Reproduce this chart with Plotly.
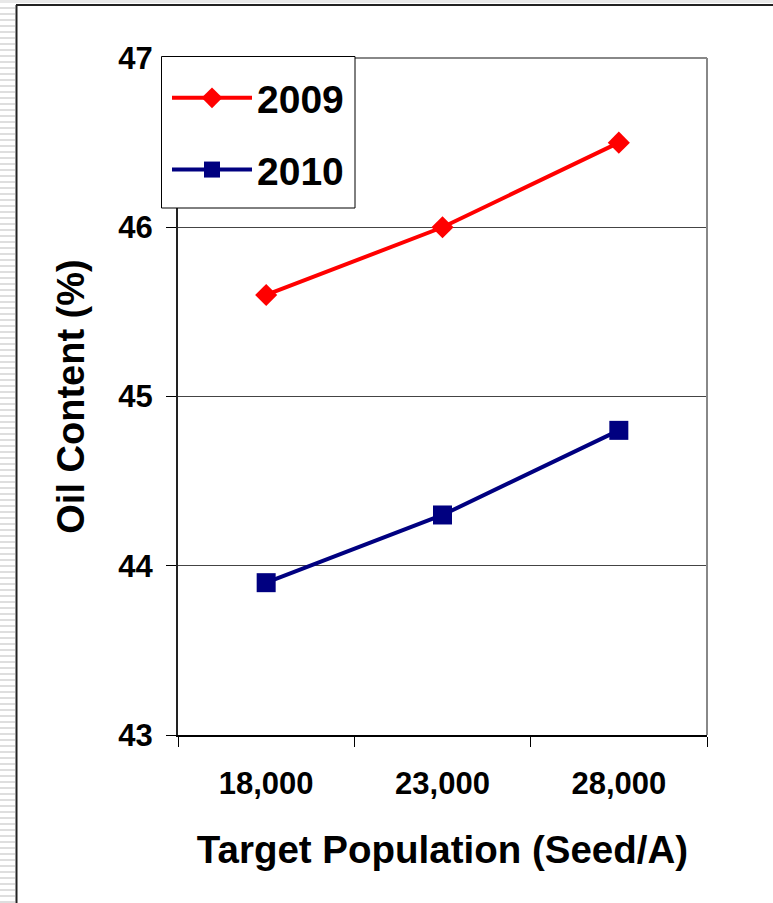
import plotly.graph_objects as go

# Target seeding rates and oil content by year
populations = ["18,000", "23,000", "28,000"]
oil_2009 = [45.6, 46.0, 46.5]
oil_2010 = [43.9, 44.3, 44.8]
y_ticks = [43, 44, 45, 46, 47]

W, H = 773, 903
L, R, T, B = 178, 707, 58, 735  # plot area in pixels


def px(x):
    return (x - L) / (R - L)


def py(y):
    return (B - y) / (B - T)


FONT = "Liberation Sans, Arial, sans-serif"

fig = go.Figure()
fig.add_trace(go.Scatter(
    x=populations, y=oil_2009, name="2009", legendgroup="a",
    mode="lines+markers",
    line=dict(color="#FF0000", width=4),
    marker=dict(symbol="diamond", size=17, color="#FF0000"),
))
fig.add_trace(go.Scatter(
    x=populations, y=oil_2010, name="2010", legendgroup="b",
    mode="lines+markers",
    line=dict(color="#000080", width=4),
    marker=dict(symbol="square", size=19, color="#000080"),
))

shapes = []
# striped strip along the left edge
stripe_path = ""
for yy in range(1, H, 6):
    stripe_path += (f"M{px(0)},{py(yy)} H{px(15)} V{py(yy + 2)} H{px(0)} Z ")
shapes.append(dict(type="path", xref="paper", yref="paper", path=stripe_path,
                   fillcolor="#dedede", line=dict(width=0), layer="below"))
# light band at top
shapes.append(dict(type="rect", xref="paper", yref="paper",
                   x0=px(0), x1=px(W), y0=py(0), y1=py(3),
                   fillcolor="#e8e8e8", line=dict(width=0), layer="below"))
# outer frame lines
shapes.append(dict(type="line", xref="paper", yref="paper",
                   x0=px(16), x1=px(W), y0=py(5), y1=py(5),
                   line=dict(color="#222222", width=2)))
shapes.append(dict(type="line", xref="paper", yref="paper",
                   x0=px(16.5), x1=px(16.5), y0=py(5), y1=py(H),
                   line=dict(color="#222222", width=2)))
# top and right border of the plot area
shapes.append(dict(type="line", xref="paper", yref="paper",
                   x0=0, x1=1, y0=1, y1=1,
                   line=dict(color="#888888", width=2)))
shapes.append(dict(type="line", xref="paper", yref="paper",
                   x0=1, x1=1, y0=0, y1=1,
                   line=dict(color="#888888", width=2)))
# legend box, drawn over the axes
shapes.append(dict(type="rect", xref="paper", yref="paper", layer="above",
                   x0=px(161.5), x1=px(355), y0=py(56.5), y1=py(208),
                   fillcolor="white", line=dict(color="black", width=1)))

fig.update_layout(
    width=W, height=H,
    margin=dict(l=L, r=W - R, t=T, b=H - B, autoexpand=False),
    paper_bgcolor="white", plot_bgcolor="white",
    font=dict(family=FONT, color="black"),
    showlegend=True,
    legend=dict(
        x=px(167), y=py(66), xanchor="left", yanchor="top",
        bgcolor="rgba(0,0,0,0)", borderwidth=0,
        font=dict(size=39, family=FONT, color="black", weight="bold"),
        itemwidth=80, tracegroupgap=18,
    ),
    xaxis=dict(
        type="category", range=[-0.5, 2.5],
        tickson="boundaries", ticks="outside", ticklen=10,
        tickcolor="black", showline=True, linecolor="black", linewidth=2,
        showgrid=False, zeroline=False,
        tickfont=dict(size=31, family=FONT, weight="bold"),
        ticklabelstandoff=20,
        title=dict(text="Target Population (Seed/A)", standoff=36,
                   font=dict(size=38.5, family=FONT, weight="bold")),
    ),
    yaxis=dict(
        range=[43, 47], tickvals=y_ticks, ticks="outside", ticklen=10,
        tickcolor="black", showline=True, linecolor="#222222", linewidth=2,
        showgrid=True, gridcolor="#444444", gridwidth=1, zeroline=False,
        tickfont=dict(size=31, family=FONT, weight="bold"),
        ticklabelstandoff=7,
        title=dict(text="Oil Content (%)", standoff=22,
                   font=dict(size=38, family=FONT, weight="bold")),
    ),
    shapes=shapes,
)

fig.write_html("out.html")
